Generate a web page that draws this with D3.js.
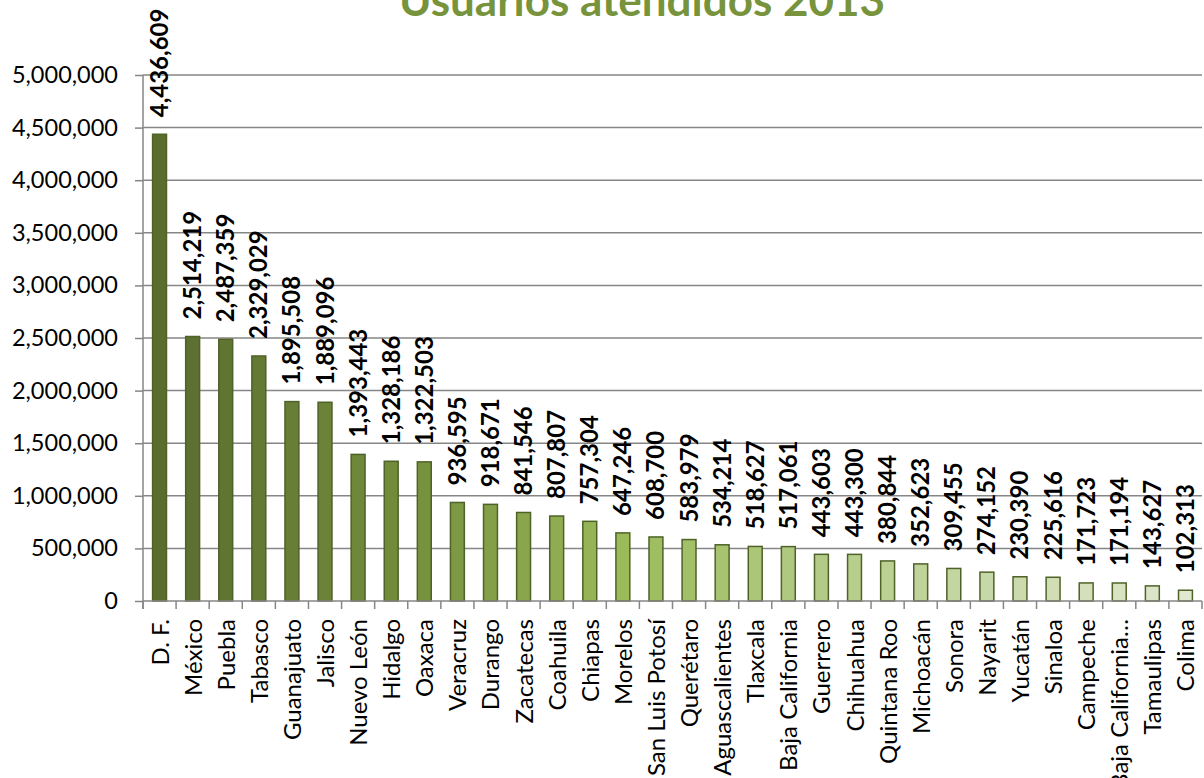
<!DOCTYPE html>
<html>
<head>
<meta charset="utf-8">
<script src="https://cdn.jsdelivr.net/npm/d3@7"></script>
<style>
  html, body { margin: 0; padding: 0; background: #ffffff; }
  svg { display: block; }
  text { font-family: Lato, "Open Sans", sans-serif; }
</style>
</head>
<body>
<svg id="chart" width="1204" height="778"></svg>
<script>
// Usuarios atendidos por entidad federativa, 2013
const estados = [
  "D. F.", "México", "Puebla", "Tabasco", "Guanajuato", "Jalisco", "Nuevo León",
  "Hidalgo", "Oaxaca", "Veracruz", "Durango", "Zacatecas", "Coahuila", "Chiapas",
  "Morelos", "San Luis Potosí", "Querétaro", "Aguascalientes", "Tlaxcala",
  "Baja California", "Guerrero", "Chihuahua", "Quintana Roo", "Michoacán",
  "Sonora", "Nayarit", "Yucatán", "Sinaloa", "Campeche", "Baja California…",
  "Tamaulipas", "Colima"
];
const usuarios = [
  4436609, 2514219, 2487359, 2329029, 1895508, 1889096, 1393443,
  1328186, 1322503, 936595, 918671, 841546, 807807, 757304,
  647246, 608700, 583979, 534214, 518627,
  517061, 443603, 443300, 380844, 352623,
  309455, 274152, 230390, 225616, 171723, 171194,
  143627, 102313
];
const yTicks = [0, 500000, 1000000, 1500000, 2000000, 2500000, 3000000,
                3500000, 4000000, 4500000, 5000000];
const titulo = "Usuarios atendidos 2013";

const svg = d3.select("#chart");
const plotLeft = 143, plotRight = 1202, plotTop = 75, plotBottom = 601;

const x = d3.scaleBand().domain(estados).range([plotLeft, plotRight]).paddingInner(0.58).paddingOuter(0.29);
const y = d3.scaleLinear().domain([0, 5000000]).range([plotBottom, plotTop]);

// shades of olive green, darkest for the largest bar
const color = d3.scaleLinear()
  .domain([0, 7, 14, 20, 31])
  .range(["#5b6c2f", "#718b3b", "#9bbb59", "#b3cb86", "#e0e8d0"]);

const fmt = d3.format(",");

// grid lines
svg.append("g")
  .selectAll("line")
  .data(yTicks.filter(d => d > 0))
  .join("line")
  .attr("x1", plotLeft).attr("x2", plotRight)
  .attr("y1", d => y(d)).attr("y2", d => y(d))
  .attr("stroke", "#868686").attr("stroke-width", 1.5);

// y axis
const yAxis = svg.append("g")
  .attr("transform", `translate(${plotLeft},0)`)
  .call(d3.axisLeft(y).tickValues(yTicks).tickFormat(fmt).tickSize(8).tickPadding(17));
yAxis.select(".domain").attr("stroke", "#868686").attr("stroke-width", 1.5)
  .attr("d", `M0,${plotTop}V${plotBottom + 8}`);
yAxis.selectAll(".tick line").attr("stroke", "#868686").attr("stroke-width", 1.5);
yAxis.selectAll(".tick text")
  .attr("fill", "#000").style("font-size", "23.5px").style("font-family", "Lato, sans-serif");

// bars
svg.append("g")
  .selectAll("rect")
  .data(usuarios)
  .join("rect")
  .attr("x", (d, i) => x(estados[i]))
  .attr("y", d => y(d))
  .attr("width", x.bandwidth())
  .attr("height", d => plotBottom - y(d))
  .attr("fill", (d, i) => color(i))
  .attr("stroke", "#4f6228")
  .attr("stroke-width", 1.5);

// x axis
const bandStep = x.step();
const boundaries = d3.range(estados.length + 1).map(i => plotLeft + i * bandStep);
svg.append("line")
  .attr("x1", plotLeft).attr("x2", plotRight)
  .attr("y1", plotBottom).attr("y2", plotBottom)
  .attr("stroke", "#868686").attr("stroke-width", 1.5);
svg.append("g")
  .selectAll("line")
  .data(boundaries)
  .join("line")
  .attr("x1", d => d).attr("x2", d => d)
  .attr("y1", plotBottom).attr("y2", plotBottom + 8)
  .attr("stroke", "#868686").attr("stroke-width", 1.5);

// category labels
svg.append("g")
  .selectAll("text")
  .data(estados)
  .join("text")
  .attr("transform", d => `translate(${x(d) + x.bandwidth() / 2 + 9},${plotBottom + 18}) rotate(-90)`)
  .attr("text-anchor", "end")
  .attr("fill", "#000")
  .style("font-size", "24px")
  .text(d => d);

// value labels
svg.append("g")
  .selectAll("text")
  .data(usuarios)
  .join("text")
  .attr("transform", (d, i) => `translate(${x(estados[i]) + x.bandwidth() / 2 + 8.5},${y(d) - 17}) rotate(-90)`)
  .attr("text-anchor", "start")
  .attr("fill", "#000")
  .style("font-size", "24px")
  .style("font-weight", "bold")
  .text(d => fmt(d));

// title
svg.append("text")
  .attr("x", 642).attr("y", 16)
  .attr("text-anchor", "middle")
  .attr("fill", "#77933c")
  .style("font-size", "44px")
  .style("font-weight", "bold")
  .text(titulo);
</script>
</body>
</html>
